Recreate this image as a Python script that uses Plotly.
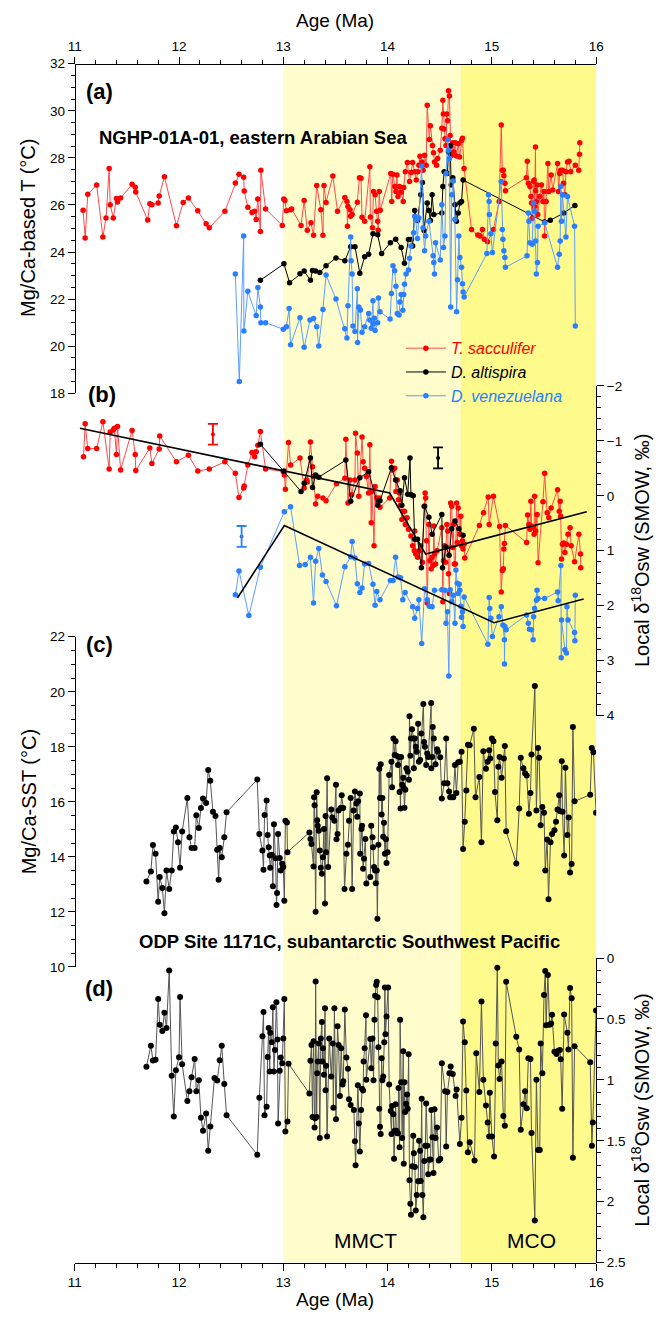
import plotly.graph_objects as go

# ---------------- data: panel (a) Mg/Ca-based T ----------------
a_sac_age = [11.08,11.10,11.125,11.21,11.27,11.30,11.33,11.34,11.37,11.40,11.41,11.44,11.55,11.58,11.585,11.70,11.72,11.74,11.80,11.81,11.86,11.975,12.04,12.09,12.18,12.26,12.29,12.44,12.54,12.575,12.62,12.625,12.66,12.70,12.725,12.74,12.755,12.78,12.785,12.83,12.99,13.005,13.015,13.03,13.07,13.08,13.17,13.20,13.23,13.265,13.29,13.32,13.36,13.38,13.39,13.41,13.475,13.52,13.59,13.61,13.615,13.62,13.64,13.645,13.66,13.71,13.73,13.745,13.755,13.78,13.83,13.835,13.855,13.865,13.88,13.895,13.905,13.91,13.92,13.93,14.03,14.04,14.05,14.07,14.08,14.09,14.10,14.115,14.13,14.15,14.155,14.17,14.19,14.21,14.225,14.24,14.26,14.275,14.29,14.30,14.31,14.33,14.34,14.355,14.37,14.38,14.40,14.41,14.43,14.44,14.45,14.47,14.48,14.505,14.52,14.53,14.535,14.54,14.55,14.56,14.568,14.575,14.584,14.593,14.60,14.605,14.615,14.625,14.635,14.65,14.66,14.678,14.69,14.71,14.718,14.733,14.805,14.865,14.887,14.91,14.927,14.958,15.015,15.07,15.09,15.10,15.11,15.115,15.125,15.13,15.33,15.34,15.35,15.365,15.375,15.38,15.387,15.40,15.405,15.41,15.418,15.42,15.427,15.433,15.44,15.459,15.475,15.49,15.50,15.505,15.52,15.537,15.546,15.568,15.583,15.63,15.64,15.65,15.66,15.677,15.687,15.70,15.71,15.725,15.74,15.755,15.80,15.833,15.84,15.843]
a_sac_T = [25.78,24.60,26.46,26.85,24.64,25.45,27.55,26.01,25.45,26.27,26.13,26.30,26.88,26.75,26.55,25.36,26.05,26.01,26.08,26.38,27.20,25.12,26.10,26.30,25.75,25.20,25.03,25.73,26.93,27.30,27.18,26.59,25.90,25.68,25.73,25.38,26.25,24.87,27.48,25.83,25.13,26.25,26.19,25.75,25.80,25.83,25.13,26.19,24.93,25.24,24.71,26.83,25.80,24.71,26.83,26.11,27.23,25.73,26.32,26.15,25.10,25.94,25.80,25.52,25.59,26.12,27.16,27.13,25.48,25.31,27.62,25.49,25.03,26.57,26.43,25.73,25.31,24.93,26.57,25.78,27.34,26.15,27.30,26.78,26.57,27.27,26.36,26.78,26.54,26.15,26.74,27.41,27.80,27.00,27.38,27.80,27.41,27.06,27.41,27.69,28.07,27.83,27.48,28.11,27.69,30.24,28.78,29.37,28.53,28.22,27.83,27.69,27.97,28.32,29.26,30.45,29.86,29.23,28.81,28.53,29.86,29.58,30.85,30.63,28.95,28.50,28.11,28.64,28.25,28.64,28.08,28.60,28.04,28.74,28.84,27.55,24.96,24.72,24.68,24.96,24.54,24.44,24.96,26.15,29.40,27.48,27.48,27.24,26.92,26.60,27.16,27.86,26.92,26.78,26.36,26.08,25.42,27.00,27.06,25.94,28.46,26.60,26.15,26.85,25.59,26.36,26.85,26.15,26.57,24.68,26.15,27.76,26.57,27.27,26.64,27.76,26.57,27.34,27.48,27.48,26.92,26.43,27.41,27.83,27.86,27.41,27.69,27.48,28.15,28.64]

a_alt_age = [12.78,13.006,13.06,13.16,13.20,13.26,13.28,13.31,13.35,13.41,13.505,13.59,13.646,13.687,13.734,13.78,13.818,13.86,13.905,13.943,14.027,14.077,14.13,14.162,14.20,14.224,14.24,14.26,14.287,14.318,14.334,14.35,14.38,14.396,14.41,14.427,14.443,14.52,14.53,14.543,14.56,14.574,14.584,14.60,14.61,14.625,14.646,14.66,14.677,14.693,14.709,14.724,15.506,15.56,15.69,15.796]
a_alt_T = [22.80,23.50,22.70,23.08,23.19,22.80,23.22,23.19,23.13,23.42,23.75,23.63,24.23,24.23,23.10,23.80,23.91,24.78,24.73,23.94,24.40,24.54,24.19,23.52,24.53,24.53,24.26,25.76,25.34,26.43,26.95,24.92,26.08,25.76,25.34,26.43,25.59,25.66,26.78,27.41,27.38,27.34,28.25,28.53,26.85,27.16,26.01,25.31,25.66,26.08,26.15,27.06,25.28,25.35,25.66,25.98]

a_ven_age = [12.54,12.578,12.62,12.622,12.66,12.74,12.756,12.78,12.785,12.83,13.00,13.03,13.056,13.07,13.16,13.20,13.256,13.29,13.32,13.34,13.38,13.41,13.505,13.59,13.61,13.62,13.646,13.65,13.66,13.668,13.687,13.71,13.712,13.724,13.74,13.755,13.78,13.818,13.83,13.843,13.86,13.865,13.874,13.88,13.905,13.912,13.927,14.024,14.037,14.052,14.068,14.08,14.093,14.11,14.118,14.13,14.146,14.155,14.162,14.177,14.20,14.21,14.224,14.25,14.26,14.27,14.287,14.30,14.327,14.34,14.355,14.365,14.396,14.437,14.443,14.45,14.46,14.505,14.52,14.536,14.55,14.56,14.577,14.584,14.593,14.605,14.615,14.63,14.645,14.662,14.67,14.683,14.693,14.709,14.718,14.724,14.734,14.952,14.968,14.974,14.976,14.99,15.005,15.09,15.10,15.106,15.115,15.125,15.13,15.337,15.35,15.355,15.365,15.387,15.40,15.41,15.42,15.427,15.437,15.443,15.506,15.63,15.646,15.655,15.66,15.668,15.677,15.71,15.725,15.793,15.80]
a_ven_T = [23.07,18.50,24.68,20.65,22.33,21.30,22.49,21.67,21.00,21.00,20.72,20.83,21.60,20.06,21.21,19.95,21.11,21.18,20.83,20.01,21.56,23.02,22.00,20.74,20.35,21.72,24.64,23.63,23.07,20.86,20.62,22.44,20.16,21.67,21.54,20.59,20.83,21.39,21.11,20.76,21.93,20.95,21.19,20.67,21.00,22.05,21.46,21.15,22.24,23.42,23.21,22.55,21.39,21.32,21.88,22.20,21.53,22.20,22.63,23.07,23.24,23.74,24.26,24.82,25.52,25.38,24.58,25.45,27.66,25.03,24.05,24.68,25.31,23.84,23.56,23.07,24.40,23.66,26.01,24.19,24.68,27.34,28.78,28.32,27.97,21.67,26.43,27.02,25.38,21.46,22.82,24.68,23.77,23.35,22.65,22.30,22.09,23.94,26.43,26.15,25.59,24.78,23.98,27.00,24.96,24.54,24.05,23.77,23.35,23.84,25.66,25.31,24.40,24.33,26.08,25.73,24.47,23.07,23.56,25.10,25.24,23.35,23.91,24.47,26.78,25.31,26.43,24.64,26.36,25.10,20.86]

# ---------------- data: panel (b) local d18Osw ----------------
b_sac_age = [11.084,11.10,11.125,11.21,11.27,11.33,11.34,11.37,11.38,11.40,11.41,11.44,11.55,11.58,11.585,11.72,11.74,11.81,11.815,11.975,12.09,12.18,12.29,12.44,12.54,12.575,12.62,12.625,12.66,12.70,12.725,12.74,12.756,12.78,12.83,13.00,13.01,13.02,13.05,13.07,13.16,13.20,13.225,13.23,13.26,13.28,13.29,13.31,13.33,13.38,13.41,13.51,13.59,13.60,13.62,13.64,13.655,13.687,13.693,13.71,13.724,13.755,13.765,13.78,13.796,13.818,13.83,13.843,13.85,13.87,13.88,13.896,13.905,13.92,13.927,14.02,14.037,14.046,14.068,14.08,14.093,14.105,14.115,14.124,14.137,14.146,14.162,14.17,14.187,14.20,14.224,14.24,14.256,14.26,14.27,14.287,14.30,14.318,14.334,14.35,14.36,14.365,14.374,14.38,14.396,14.405,14.418,14.427,14.437,14.443,14.45,14.46,14.474,14.52,14.53,14.536,14.546,14.556,14.568,14.577,14.584,14.593,14.605,14.615,14.625,14.63,14.64,14.65,14.662,14.668,14.677,14.693,14.702,14.709,14.718,14.724,14.734,14.74,14.88,14.92,14.965,14.974,15.015,15.074,15.09,15.10,15.11,15.115,15.12,15.13,15.333,15.343,15.355,15.365,15.374,15.38,15.40,15.405,15.41,15.42,15.433,15.443,15.49,15.506,15.53,15.546,15.568,15.63,15.646,15.655,15.66,15.668,15.677,15.687,15.70,15.715,15.73,15.75,15.76,15.793,15.834,15.85,15.852]
b_sac_d = [-0.71,-1.31,-0.86,-0.86,-1.35,-0.49,-1.16,-1.20,-1.23,-0.75,-1.26,-0.47,-1.19,-0.75,-0.46,-0.87,-0.59,-0.85,-1.09,-0.62,-0.74,-0.45,-0.49,-0.62,-0.41,0.03,-0.14,-0.18,-0.56,-0.79,-0.71,-0.80,-0.92,-1.17,-0.49,-0.44,-0.38,-0.12,-0.97,-0.56,-0.69,-0.14,-0.29,-0.25,-0.98,-0.53,-0.35,0.15,0.01,0.04,0.09,-0.22,-0.32,-1.03,0.13,-0.29,-0.02,-0.29,-1.14,-0.78,0.01,-1.07,-0.62,-0.50,-0.35,-0.05,-0.93,0.49,-0.08,0.91,-0.17,0.04,0.10,0.04,0.21,0.04,-0.63,-0.47,-0.50,-0.08,-0.29,0.07,-0.05,0.17,0.43,0.28,0.28,0.52,0.40,0.61,0.73,0.91,1.00,0.64,1.06,1.12,1.00,0.91,1.21,0.19,-0.05,0.04,0.82,1.95,0.52,1.18,1.33,1.12,1.27,0.55,1.06,1.24,1.00,0.58,1.93,1.18,0.91,1.21,0.52,0.64,1.42,1.78,0.13,0.19,0.94,0.52,1.24,1.24,0.13,0.85,0.22,0.70,0.37,0.91,0.82,0.97,0.88,1.13,0.54,0.31,0.02,0.52,0.01,0.56,1.75,1.36,1.33,0.97,0.87,0.54,0.85,0.35,0.52,0.61,0.10,0.55,0.58,0.70,0.01,0.64,0.34,1.22,0.11,-0.41,0.31,0.40,0.22,-0.11,0.28,0.10,0.37,1.15,0.88,0.86,1.03,0.88,0.70,0.58,0.91,1.20,0.70,1.06,1.31]

b_alt_age = [12.78,13.006,13.17,13.20,13.26,13.28,13.31,13.34,13.60,13.646,13.734,13.818,13.905,13.927,14.037,14.077,14.12,14.137,14.162,14.193,14.215,14.224,14.246,14.26,14.287,14.324,14.355,14.396,14.427,14.52,14.527,14.56,14.59,14.615,14.646,14.684,14.724]
b_alt_d = [-0.94,-0.45,-0.08,-0.23,-0.69,-0.15,-0.38,-0.34,-0.65,0.10,-0.33,-0.44,0.17,0.09,-0.51,-0.29,-0.09,0.17,-0.33,-0.03,-0.69,-0.02,0.00,0.79,0.79,1.31,0.19,0.39,0.70,0.34,1.31,0.93,1.08,0.60,0.46,0.60,0.72]

b_ven_age = [12.54,12.575,12.67,12.78,13.01,13.07,13.156,13.21,13.26,13.29,13.31,13.34,13.375,13.41,13.51,13.59,13.646,13.66,13.687,13.71,13.734,13.755,13.78,13.818,13.86,13.88,13.896,13.927,14.027,14.052,14.077,14.10,14.124,14.146,14.168,14.24,14.26,14.287,14.30,14.327,14.355,14.38,14.40,14.427,14.45,14.52,14.55,14.56,14.574,14.587,14.60,14.615,14.63,14.646,14.655,14.668,14.677,14.687,14.693,14.702,14.709,14.718,14.724,14.734,14.962,14.974,14.98,14.99,15.005,15.068,15.09,15.106,15.12,15.121,15.125,15.137,15.333,15.35,15.36,15.38,15.396,15.40,15.41,15.427,15.433,15.443,15.506,15.63,15.636,15.662,15.665,15.668,15.70,15.715,15.72,15.73,15.793,15.796,15.80]
b_ven_d = [1.80,1.37,2.18,1.30,0.29,0.20,1.27,1.25,1.12,1.95,1.19,0.96,1.44,1.56,2.00,1.29,1.11,0.83,1.13,1.60,1.76,1.68,1.24,1.23,1.61,1.99,1.74,1.89,1.54,1.54,1.12,1.48,1.49,1.89,1.76,2.02,2.23,2.05,1.89,2.69,1.69,1.89,2.01,2.02,1.72,1.71,1.72,2.32,2.11,3.28,1.71,1.93,1.81,2.32,1.35,1.59,1.78,1.61,1.72,2.01,2.21,2.11,2.38,1.84,2.70,1.85,2.05,2.23,2.56,2.20,2.02,2.35,2.62,3.06,2.38,2.44,2.17,2.32,2.43,2.44,2.62,2.20,2.05,1.90,1.72,1.87,1.87,1.75,1.91,1.27,2.95,2.26,2.80,2.86,2.02,2.26,2.49,2.64,1.81]

trend_sac_age = [11.05, 14.02, 14.365, 15.91]
trend_sac_d = [-1.23, -0.05, 1.06, 0.29]
trend_ven_age = [12.56, 13.01, 15.02, 15.88]
trend_ven_d = [1.86, 0.54, 2.31, 1.88]

err_age = [12.325, 12.60, 14.484]
err_d = [-1.12, 0.74, -0.69]
err_half = [0.19, 0.19, 0.19]

# ---------------- data: panel (c) ODP 1171C Mg/Ca-SST ----------------
c_age = [11.6875,11.73,11.75,11.775,11.80,11.815,11.84,11.86,11.88,11.906,11.93,11.95,11.97,11.99,12.01,12.03,12.08,12.10,12.12,12.15,12.166,12.19,12.21,12.23,12.26,12.28,12.30,12.325,12.35,12.366,12.38,12.39,12.41,12.434,12.456,12.75,12.77,12.80,12.81,12.82,12.84,12.85,12.86,12.87,12.875,12.89,12.90,12.91,12.925,12.935,12.94,12.95,12.966,12.975,12.99,13.00,13.01,13.02,13.035,13.04,13.25,13.26,13.27,13.29,13.295,13.30,13.31,13.32,13.325,13.33,13.34,13.35,13.36,13.37,13.38,13.39,13.40,13.405,13.41,13.42,13.43,13.46,13.47,13.49,13.505,13.51,13.52,13.53,13.55,13.56,13.574,13.587,13.605,13.62,13.63,13.646,13.66,13.674,13.687,13.70,13.709,13.718,13.734,13.737,13.75,13.755,13.765,13.774,13.787,13.796,13.834,13.843,13.855,13.86,13.87,13.88,13.887,13.896,13.902,13.912,13.92,13.927,13.934,13.943,13.95,13.958,13.965,13.974,13.984,13.99,14.00,14.015,14.037,14.043,14.056,14.068,14.077,14.084,14.10,14.11,14.115,14.124,14.13,14.14,14.15,14.155,14.162,14.17,14.18,14.193,14.205,14.21,14.218,14.224,14.234,14.25,14.252,14.26,14.27,14.28,14.293,14.30,14.312,14.324,14.343,14.35,14.358,14.37,14.38,14.39,14.418,14.42,14.427,14.433,14.443,14.46,14.474,14.483,14.505,14.52,14.543,14.562,14.574,14.59,14.60,14.615,14.63,14.646,14.66,14.677,14.693,14.709,14.724,14.74,14.755,14.77,14.787,14.827,14.843,14.88,14.90,14.918,14.943,14.96,14.974,14.984,15.00,15.015,15.03,15.052,15.062,15.074,15.093,15.115,15.124,15.137,15.234,15.262,15.277,15.302,15.318,15.334,15.355,15.37,15.38,15.412,15.427,15.443,15.453,15.468,15.484,15.50,15.512,15.53,15.543,15.562,15.577,15.60,15.615,15.63,15.646,15.655,15.67,15.677,15.693,15.705,15.724,15.737,15.75,15.765,15.777,15.793,15.943,15.958,15.974,15.999]
c_sst = [13.11,13.47,14.43,14.11,12.37,13.27,12.87,11.95,13.51,12.83,13.51,14.92,15.07,14.53,13.61,14.92,16.14,14.71,14.32,14.32,15.51,15.05,15.78,16.12,15.96,17.16,16.77,15.64,15.49,14.26,13.17,14.32,13.99,14.71,15.62,16.81,14.83,14.23,13.53,15.52,16.05,14.80,14.35,14.05,13.61,14.08,12.93,15.19,13.95,12.25,12.69,14.83,13.96,13.51,13.75,13.63,12.41,15.31,15.25,14.17,14.89,14.65,14.47,13.65,16.17,15.88,12.01,16.35,15.33,15.13,14.95,14.23,13.61,13.39,13.99,15.01,12.31,15.49,14.17,16.86,13.63,15.72,15.43,15.31,16.62,14.64,14.83,15.69,15.78,16.24,15.78,12.83,14.11,14.44,15.31,16.14,12.83,15.69,16.38,15.94,15.46,16.02,16.30,14.11,15.01,15.13,13.57,13.93,14.65,13.03,13.27,15.13,14.71,14.35,13.63,13.51,13.04,13.51,11.75,14.44,17.20,16.14,17.37,15.54,16.14,14.73,15.24,14.11,14.64,13.78,14.17,16.98,17.46,16.53,18.30,17.70,18.20,17.68,17.34,17.63,16.36,15.76,17.63,16.62,16.88,16.50,15.79,16.44,17.22,17.10,16.80,19.11,17.68,18.30,18.64,18.30,17.22,18.30,18.00,17.82,18.84,17.46,17.52,18.48,19.56,18.18,18.00,17.34,17.76,17.63,19.59,17.22,17.63,18.72,18.30,17.37,17.91,17.82,17.62,16.12,16.68,18.30,16.68,16.38,16.17,16.17,16.17,17.34,16.32,17.44,17.46,17.82,14.29,15.28,16.41,18.08,18.06,18.66,16.17,16.90,14.53,17.84,17.20,17.46,17.88,17.58,18.30,18.20,16.36,15.33,17.28,17.63,16.88,17.58,18.03,14.93,13.76,15.76,17.60,17.22,17.04,16.96,15.57,16.32,17.72,20.21,15.69,17.96,17.60,15.15,15.81,15.60,13.51,14.63,12.46,14.53,14.83,14.97,15.28,15.72,16.24,15.66,17.48,15.64,14.05,17.24,14.80,15.43,13.43,13.74,18.72,16.02,16.26,17.96,17.80,15.60]

# ---------------- data: panel (d) ODP 1171C local d18Osw ----------------
d_age = [11.6875,11.73,11.75,11.775,11.80,11.815,11.84,11.86,11.88,11.906,11.93,11.95,11.97,12.00,12.01,12.03,12.08,12.10,12.12,12.15,12.166,12.19,12.21,12.23,12.26,12.28,12.30,12.34,12.366,12.39,12.41,12.434,12.456,12.75,12.77,12.80,12.81,12.82,12.84,12.85,12.86,12.87,12.875,12.89,12.90,12.91,12.92,12.934,12.944,12.95,12.966,12.975,12.99,13.00,13.01,13.02,13.04,13.05,13.25,13.26,13.27,13.28,13.29,13.30,13.305,13.31,13.32,13.325,13.33,13.34,13.35,13.36,13.37,13.375,13.38,13.39,13.40,13.405,13.41,13.42,13.44,13.46,13.474,13.48,13.49,13.505,13.52,13.53,13.543,13.555,13.568,13.575,13.59,13.605,13.62,13.63,13.646,13.677,13.687,13.693,13.715,13.724,13.734,13.746,13.755,13.765,13.77,13.78,13.793,13.796,13.834,13.843,13.855,13.865,13.874,13.88,13.89,13.896,13.905,13.912,13.92,13.927,13.934,13.943,13.95,13.958,13.968,13.974,13.98,13.99,14.005,14.015,14.03,14.037,14.043,14.055,14.062,14.068,14.077,14.084,14.093,14.10,14.105,14.115,14.12,14.13,14.14,14.15,14.155,14.162,14.168,14.177,14.187,14.193,14.202,14.21,14.218,14.224,14.237,14.246,14.252,14.262,14.27,14.28,14.293,14.302,14.312,14.318,14.327,14.334,14.343,14.352,14.362,14.37,14.38,14.39,14.40,14.412,14.42,14.43,14.44,14.45,14.46,14.474,14.49,14.505,14.52,14.552,14.562,14.574,14.593,14.605,14.625,14.652,14.662,14.693,14.709,14.724,14.74,14.755,14.77,14.787,14.834,14.85,14.88,14.90,14.918,14.943,14.96,14.974,14.98,15.00,15.021,15.037,15.052,15.062,15.074,15.093,15.11,15.124,15.137,15.234,15.262,15.277,15.302,15.318,15.334,15.35,15.37,15.38,15.412,15.427,15.443,15.459,15.468,15.484,15.50,15.512,15.52,15.537,15.553,15.568,15.577,15.60,15.62,15.637,15.652,15.66,15.674,15.693,15.724,15.734,15.75,15.765,15.777,15.793,15.943,15.959,15.968,15.999]
d_d18 = [0.893,0.719,0.841,0.834,0.336,0.547,0.598,0.449,0.574,0.103,
         0.966,1.301,0.920,0.814,0.319,0.871,1.174,1.093,0.979,0.828,
         1.093,1.004,1.310,1.418,1.277,1.581,1.382,0.985,1.006,0.839,
         0.719,1.034,1.291,1.615,1.147,0.642,0.443,1.291,1.221,0.812,
         0.574,0.931,0.614,0.692,0.404,0.931,0.755,0.363,0.669,1.359,
         0.925,0.817,0.863,0.660,0.336,1.423,1.342,0.868,1.112,0.844,
         0.714,1.305,0.682,1.391,1.315,0.192,1.305,0.945,0.850,0.701,
         1.477,0.660,0.525,0.850,0.741,0.958,0.411,1.085,0.884,1.464,
         0.660,0.972,0.701,1.228,0.411,1.323,0.560,0.714,1.133,0.741,
         1.039,1.011,0.422,0.817,0.909,1.160,1.207,1.248,1.504,1.702,
         1.045,1.359,1.588,1.248,1.072,1.088,0.850,0.741,0.470,0.999,
         0.665,0.904,0.660,1.004,0.506,0.309,0.222,0.194,0.322,0.733,
         1.237,1.385,1.445,0.823,1.004,0.972,0.692,0.241,0.626,0.479,
         0.241,1.039,1.255,1.445,1.215,1.282,1.647,1.418,1.201,1.418,
         1.439,1.439,1.066,1.554,0.506,1.020,1.477,0.764,1.688,1.020,
         1.264,1.196,1.120,1.237,0.790,1.824,2.018,2.108,1.710,1.459,
         1.602,1.715,2.072,1.945,1.832,1.499,1.581,1.830,1.155,1.945,
         2.127,1.667,1.540,1.194,1.540,1.775,1.656,1.653,1.248,1.472,
         1.764,1.242,1.477,1.391,1.661,1.647,0.863,1.093,1.547,1.099,
         0.945,0.891,0.952,1.133,1.079,1.526,1.310,0.520,0.692,1.088,
         1.594,1.513,1.661,0.782,1.099,0.357,0.999,1.210,1.350,1.464,
         1.106,1.464,1.629,0.701,0.079,0.882,0.993,0.850,1.296,1.377,
         0.194,0.647,0.750,1.409,1.201,1.093,1.233,0.823,0.828,1.437,
         2.154,0.999,1.575,1.575,0.701,0.945,0.303,0.106,0.552,0.138,
         0.547,0.538,0.465,0.769,0.787,0.760,0.755,0.830,1.237,0.463,
         0.614,0.750,0.246,0.330,1.640,0.723,0.855,1.540,1.350,0.430]

# ---------------- layout geometry ----------------
W, H = 663, 1320
def px(x): return x / W
def py(y): return 1 - y / H

XL, XR = 69.3, 602.8
Y_TOP, Y_BOT = 57.4, 1270.0
DOM_A = [py(390.7), py(Y_TOP)]
DOM_B = [py(716.7), py(383.3)]
DOM_C = [py(971.0), py(637.0)]
DOM_D = [py(Y_BOT), py(962.0)]

RED, RED_L = "#ff0000", "#ff4a4a"
BLUE, BLUE_L = "#2a7fff", "#5b9dff"
BLACK = "#000000"
GREY_L = "#555555"
FONT = "Liberation Sans, Arial, sans-serif"

fig = go.Figure()

def series(x, y, color, lcolor, yaxis, name=None, size=5.5, legend=False):
    fig.add_trace(go.Scatter(
        x=x, y=y, mode="lines+markers", xaxis="x", yaxis=yaxis,
        line=dict(color=lcolor, width=1),
        marker=dict(color=color, size=size),
        name=name, showlegend=legend, hoverinfo="skip"))

series(a_sac_age, a_sac_T, RED, RED_L, "y",
       "<span style='color:#ff0000'><i>T. sacculifer</i></span>", legend=True)
series(a_alt_age, a_alt_T, BLACK, BLACK, "y",
       "<i>D. altispira</i>", legend=True)
series(a_ven_age, a_ven_T, BLUE, BLUE_L, "y",
       "<span style='color:#2a7fff'><i>D. venezuelana</i></span>", legend=True)

series(b_sac_age, b_sac_d, RED, RED_L, "y2")
series(b_alt_age, b_alt_d, BLACK, BLACK, "y2")
series(b_ven_age, b_ven_d, BLUE, BLUE_L, "y2")
fig.add_trace(go.Scatter(x=trend_sac_age, y=trend_sac_d, mode="lines", xaxis="x", yaxis="y2",
                         line=dict(color="black", width=1.6), showlegend=False, hoverinfo="skip"))
fig.add_trace(go.Scatter(x=trend_ven_age, y=trend_ven_d, mode="lines", xaxis="x", yaxis="y2",
                         line=dict(color="black", width=1.6), showlegend=False, hoverinfo="skip"))
for a, v, e, col in zip(err_age, err_d, err_half, [RED, BLUE, BLACK]):
    fig.add_trace(go.Scatter(x=[a], y=[v], mode="markers", xaxis="x", yaxis="y2",
                             marker=dict(color=col, size=4),
                             error_y=dict(type="data", array=[e], width=5, thickness=1.8, color=col),
                             showlegend=False, hoverinfo="skip"))

series(c_age, c_sst, BLACK, GREY_L, "y3", size=6)
series(d_age, d_d18, BLACK, GREY_L, "y4", size=6)

# empty trace so the top age axis is drawn
fig.add_trace(go.Scatter(x=[], y=[], xaxis="x2", yaxis="y", showlegend=False))

# shaded intervals
fig.add_shape(type="rect", xref="x", yref="paper", x0=13.0, x1=14.7, y0=py(Y_BOT), y1=py(Y_TOP),
              fillcolor="#fffdcc", line=dict(width=0), layer="below")
fig.add_shape(type="rect", xref="x", yref="paper", x0=14.7, x1=16.0, y0=py(Y_BOT), y1=py(Y_TOP),
              fillcolor="#fffa8c", line=dict(width=0), layer="below")

tickfont = dict(family=FONT, size=13.5, color="black")
common_x = dict(range=[11, 16], tick0=11, dtick=1, ticks="outside", ticklen=7, tickwidth=1,
                minor=dict(dtick=0.2, ticks="outside", ticklen=4, tickwidth=1, tickcolor="black"),
                showline=True, linecolor="black", linewidth=1, showgrid=False, zeroline=False,
                tickcolor="black", tickfont=tickfont, domain=[px(XL), px(XR)], anchor="free")
common_y = dict(ticks="outside", ticklen=7, tickwidth=1, tickcolor="black",
                showline=True, linecolor="black", linewidth=1, showgrid=False, zeroline=False,
                tickfont=tickfont, anchor="free")

fig.update_layout(
    width=W, height=H, autosize=False,
    margin=dict(l=0, r=0, t=0, b=0),
    paper_bgcolor="white", plot_bgcolor="rgba(0,0,0,0)",
    font=dict(family=FONT, color="black"),
    xaxis=dict(**common_x, side="bottom", position=py(Y_BOT)),
    xaxis2=dict(**common_x, side="top", position=py(Y_TOP), overlaying="x", matches="x"),
    yaxis=dict(**common_y, domain=DOM_A, range=[18, 32], tick0=18, dtick=2, side="left",
               position=px(XL), minor=dict(dtick=0.5, ticks="outside", ticklen=4, tickcolor="black")),
    yaxis2=dict(**common_y, domain=DOM_B, range=[4, -2], tick0=-2, dtick=1, side="right",
                position=px(XR), minor=dict(dtick=0.2, ticks="outside", ticklen=4, tickcolor="black")),
    yaxis3=dict(**common_y, domain=DOM_C, range=[10, 22], tick0=10, dtick=2, side="left",
                position=px(XL), minor=dict(dtick=0.5, ticks="outside", ticklen=4, tickcolor="black")),
    yaxis4=dict(**common_y, domain=DOM_D, range=[2.5, 0], tick0=0, dtick=0.5, side="right",
                position=px(XR), minor=dict(dtick=0.1, ticks="outside", ticklen=4, tickcolor="black")),
    legend=dict(x=px(403), y=py(328), xanchor="left", yanchor="top", bgcolor="rgba(0,0,0,0)",
                font=dict(family=FONT, size=16), itemwidth=40, tracegroupgap=0),
)

def ann(text, x, y, size, bold=False, angle=0, xanchor="center"):
    fig.add_annotation(text=f"<b>{text}</b>" if bold else text, x=px(x), y=py(y),
                       xref="paper", yref="paper", showarrow=False, textangle=angle,
                       xanchor=xanchor, yanchor="middle",
                       font=dict(family=FONT, size=size, color="black"))

ann("Age (Ma)", 336, 14, 19)
ann("Age (Ma)", 336, 1307, 19)
ann("Mg/Ca-based T (°C)", 22, 224, 20, angle=-90)
ann("Mg/Ca-SST (°C)", 22, 804, 20, angle=-90)
ann("Local δ<sup>18</sup>Osw (SMOW, ‰)", 648, 550, 20, angle=-90)
ann("Local δ<sup>18</sup>Osw (SMOW, ‰)", 648, 1116, 20, angle=-90)
ann("(a)", 95, 85, 22, bold=True)
ann("(b)", 97, 392, 22, bold=True)
ann("(c)", 95, 645, 22, bold=True)
ann("(d)", 94, 993, 22, bold=True)
ann("NGHP-01A-01, eastern Arabian Sea", 92, 132, 18.5, bold=True, xanchor="left")
ann("ODP Site 1171C, subantarctic Southwest Pacific", 133, 945, 18.5, bold=True, xanchor="left")
ann("MMCT", 367, 1248, 21)
ann("MCO", 537, 1248, 21)

fig.write_html("out.html")
